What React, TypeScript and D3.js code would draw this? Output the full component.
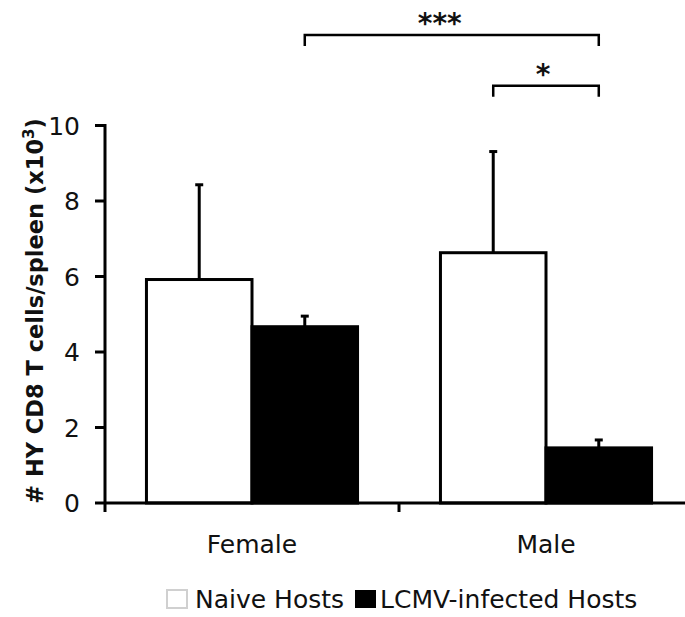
import React from "react";
import * as d3 from "d3";

const categories = ["Female", "Male"];
const series = ["Naive Hosts", "LCMV-infected Hosts"];
const naiveMeans = [5.92, 6.63];
const naiveSem = [2.51, 2.68];
const lcmvMeans = [4.67, 1.46];
const lcmvSem = [0.28, 0.21];
const yTicks = [0, 2, 4, 6, 8, 10];
const sigLabels = ["***", "*"];
const sigFrom = [["Female", "LCMV-infected Hosts"], ["Male", "Naive Hosts"]];
const sigTo = [["Male", "LCMV-infected Hosts"], ["Male", "LCMV-infected Hosts"]];
const sigLevel = [12.4, 11.05];

const W = 685;
const H = 617;
const FONT = "'DejaVu Sans', Verdana, sans-serif";
const SIG_DX = [-12, -3];

export default function App() {
  const x = d3
    .scaleBand<string>()
    .domain(categories)
    .range([105, 693])
    .paddingInner(0.282)
    .paddingOuter(0.141);
  const xs = d3.scaleBand<string>().domain(series).range([0, x.bandwidth()]).padding(0);
  const y = d3.scaleLinear().domain([0, 10]).range([503, 125.5]);

  const means = [naiveMeans, lcmvMeans];
  const sems = [naiveSem, lcmvSem];
  const fills = ["#ffffff", "#000000"];

  const axisX = 105;
  const y0 = y(0);
  const midTick = ((x(categories[0]) as number) + x.bandwidth() + (x(categories[1]) as number)) / 2;

  const cx = (cat: string, s: string) => (x(cat) as number) + (xs(s) as number) + xs.bandwidth() / 2;

  return (
    <svg
      width={W}
      height={H}
      style={{ position: "absolute", left: 0, top: 0, background: "#fff" }}
      fontFamily={FONT}
    >
      <rect x={0} y={0} width={W} height={H} fill="#fff" />
      {series.map((s, si) =>
        categories.map((cat, ci) => {
          const v = means[si][ci];
          return (
            <rect
              key={`b-${si}-${ci}`}
              x={(x(cat) as number) + (xs(s) as number)}
              y={y(v)}
              width={xs.bandwidth()}
              height={y0 - y(v)}
              fill={fills[si]}
              stroke="#000"
              strokeWidth={3}
            />
          );
        })
      )}
      {series.map((s, si) =>
        categories.map((cat, ci) => {
          const v = means[si][ci];
          const top = v + sems[si][ci];
          const c = cx(cat, s);
          return (
            <g key={`e-${si}-${ci}`} stroke="#000" strokeWidth={3}>
              <line x1={c} x2={c} y1={y(v)} y2={y(top)} />
              <line x1={c - 4} x2={c + 4} y1={y(top)} y2={y(top)} />
            </g>
          );
        })
      )}
      <line x1={axisX} x2={axisX} y1={y(10) - 1.5} y2={y0 + 9} stroke="#000" strokeWidth={3} />
      <line x1={axisX} x2={W} y1={y0} y2={y0} stroke="#000" strokeWidth={3} />
      <line x1={midTick} x2={midTick} y1={y0} y2={y0 + 9} stroke="#000" strokeWidth={3} />
      {yTicks.map((t) => (
        <g key={`t-${t}`}>
          <line x1={axisX - 10} x2={axisX} y1={y(t)} y2={y(t)} stroke="#000" strokeWidth={3} />
          <text x={80} y={y(t)} dy="0.36em" textAnchor="end" fontSize={25} fill="#111">
            {t}
          </text>
        </g>
      ))}
      {categories.map((cat) => (
        <text
          key={`c-${cat}`}
          x={(x(cat) as number) + x.bandwidth() / 2}
          y={553}
          textAnchor="middle"
          fontSize={25}
          fill="#111"
        >
          {cat}
        </text>
      ))}
      <text
        transform="translate(43,311) rotate(-90)"
        textAnchor="middle"
        fontSize={22.5}
        fontWeight="bold"
        fill="#111"
      >
        # HY CD8 T cells/spleen (x10
        <tspan fontSize={15} dy={-9}>3</tspan>
        <tspan dy={9}>)</tspan>
      </text>
      {sigLabels.map((lab, i) => {
        const x1 = cx(sigFrom[i][0], sigFrom[i][1]);
        const x2 = cx(sigTo[i][0], sigTo[i][1]);
        const yy = y(sigLevel[i]);
        return (
          <g key={`s-${i}`}>
            <path
              d={`M${x1},${yy + 11}V${yy}H${x2}V${yy + 11}`}
              fill="none"
              stroke="#000"
              strokeWidth={2.5}
            />
            <text
              x={(x1 + x2) / 2 + SIG_DX[i]}
              y={yy - 2}
              textAnchor="middle"
              fontSize={28}
              fontWeight="bold"
              fill="#111"
            >
              {lab}
            </text>
          </g>
        );
      })}
      <rect x={167} y={590} width={20} height={18} fill="#fff" stroke="#d0d0d0" strokeWidth={2} />
      <text x={195} y={608} fontSize={25} fill="#111">
        {series[0]}
      </text>
      <rect x={355} y={590} width={21} height={18} fill="#000" />
      <text x={380} y={608} fontSize={25} fill="#111">
        {series[1]}
      </text>
    </svg>
  );
}
